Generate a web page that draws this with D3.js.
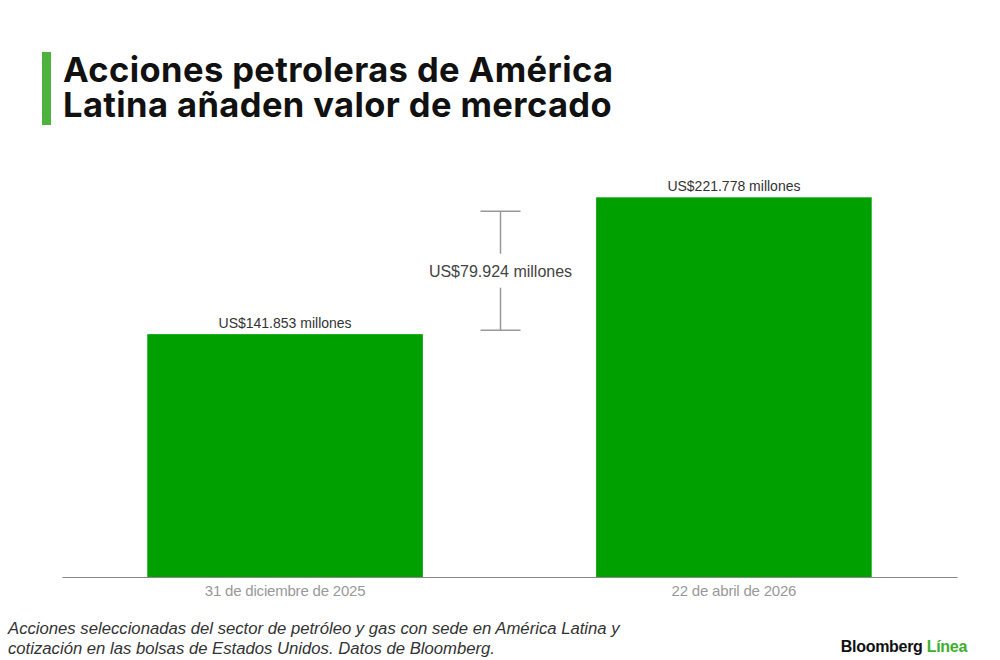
<!DOCTYPE html>
<html>
<head>
<meta charset="utf-8">
<script src="https://cdn.jsdelivr.net/npm/d3@7"></script>
<style>
  body { margin: 0; background: #fff; }
  svg { display: block; font-family: "Liberation Sans", Arial, sans-serif; }
</style>
</head>
<body>
<svg id="chart" width="1000" height="660"></svg>
<script>
// Chart data
const titleLines = ['Acciones petroleras de América', 'Latina añaden valor de mercado'];
const categories = ['31 de diciembre de 2025', '22 de abril de 2026'];
const values = [141853, 221778];
const valueLabels = ['US$141.853 millones', 'US$221.778 millones'];
const diffLabel = 'US$79.924 millones';
const footnoteLines = [
  'Acciones seleccionadas del sector de petróleo y gas con sede en América Latina y',
  'cotización en las bolsas de Estados Unidos. Datos de Bloomberg.'
];

const svg = d3.select('#chart');
const barColor = '#00a000';
const accent = '#4db33d';

const plot = { left: 62, right: 957, top: 149, bottom: 577 };

const x = d3.scaleBand()
  .domain(categories)
  .range([plot.left, plot.right])
  .paddingInner(0.386)
  .paddingOuter(0.19);

const y = d3.scaleLinear()
  .domain([0, 250000])
  .range([plot.bottom, plot.top]);

// Title with green marker
svg.append('rect')
  .attr('x', 42).attr('y', 52)
  .attr('width', 9).attr('height', 73)
  .attr('fill', accent);

svg.append('g')
  .selectAll('text')
  .data(titleLines)
  .enter()
  .append('text')
  .attr('x', 63)
  .attr('y', (d, i) => 82 + i * 35)
  .attr('font-family', 'Inter, "Liberation Sans", sans-serif')
  .attr('font-size', 34.5)
  .attr('font-weight', 'bold')
  .attr('letter-spacing', 0.4)
  .attr('fill', '#111')
  .text(d => d);

// Bars
svg.append('g')
  .selectAll('rect')
  .data(values)
  .enter()
  .append('rect')
  .attr('x', (d, i) => x(categories[i]))
  .attr('y', d => y(d))
  .attr('width', x.bandwidth())
  .attr('height', d => y(0) - y(d))
  .attr('fill', barColor);

// Value labels
svg.append('g')
  .selectAll('text')
  .data(values)
  .enter()
  .append('text')
  .attr('x', (d, i) => x(categories[i]) + x.bandwidth() / 2)
  .attr('y', d => y(d) - 6)
  .attr('text-anchor', 'middle')
  .attr('font-size', 14)
  .attr('fill', '#333')
  .text((d, i) => valueLabels[i]);

// Axis
const xAxis = svg.append('g')
  .attr('transform', `translate(0,${plot.bottom})`)
  .call(d3.axisBottom(x).tickSize(0).tickPadding(8));
xAxis.select('.domain').attr('stroke', '#888').attr('stroke-width', 1.2);
xAxis.selectAll('text')
  .attr('font-family', '"Liberation Sans", Arial, sans-serif')
  .attr('font-size', 15)
  .attr('letter-spacing', -0.2)
  .attr('fill', '#999');

// Difference bracket between the two bars
const bx = (x(categories[0]) + x.bandwidth() + x(categories[1])) / 2 - 9;
const yTop = y(values[1]) + 14;
const yBot = y(values[0]) - 4;
const yMid = (yTop + yBot) / 2;
const bracket = svg.append('g')
  .attr('stroke', '#999')
  .attr('stroke-width', 1.5);
bracket.append('line').attr('x1', bx - 20).attr('x2', bx + 20).attr('y1', yTop).attr('y2', yTop);
bracket.append('line').attr('x1', bx - 20).attr('x2', bx + 20).attr('y1', yBot).attr('y2', yBot);
bracket.append('line').attr('x1', bx).attr('x2', bx).attr('y1', yTop).attr('y2', yMid - 17);
bracket.append('line').attr('x1', bx).attr('x2', bx).attr('y1', yMid + 17).attr('y2', yBot);

svg.append('text')
  .attr('x', bx)
  .attr('y', yMid + 6)
  .attr('text-anchor', 'middle')
  .attr('font-size', 16)
  .attr('fill', '#444')
  .text(diffLabel);

// Footnote
svg.append('g')
  .selectAll('text')
  .data(footnoteLines)
  .enter()
  .append('text')
  .attr('x', 8)
  .attr('y', (d, i) => 634 + i * 20)
  .attr('font-size', 16.7)
  .attr('font-style', 'italic')
  .attr('fill', '#333')
  .text(d => d);

// Logo
const logo = svg.append('text')
  .attr('x', 967)
  .attr('y', 652)
  .attr('text-anchor', 'end')
  .attr('font-size', 16)
  .attr('font-weight', 'bold')
  .attr('letter-spacing', -0.3);
logo.append('tspan').attr('fill', '#111').text('Bloomberg ');
logo.append('tspan').attr('fill', '#3cae2e').text('Línea');
</script>
</body>
</html>
